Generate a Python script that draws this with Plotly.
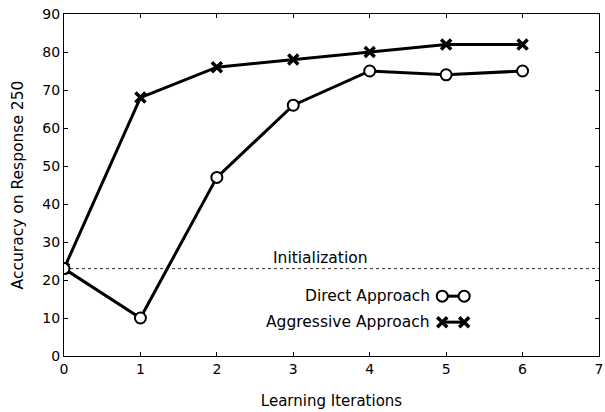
import plotly.graph_objects as go

iterations = [0, 1, 2, 3, 4, 5, 6]
direct_acc = [23, 10, 47, 66, 75, 74, 75]
aggressive_acc = [23, 68, 76, 78, 80, 82, 82]
init_level = 23
x_ticks = [0, 1, 2, 3, 4, 5, 6, 7]
y_ticks = [0, 10, 20, 30, 40, 50, 60, 70, 80, 90]
series_names = ["Direct Approach", "Aggressive Approach"]

FONT = "DejaVu Sans"

fig = go.Figure()

# initialization reference line
fig.add_trace(go.Scatter(
    x=[x_ticks[0], x_ticks[-1]], y=[init_level, init_level], mode="lines",
    line=dict(color="#333333", width=1, dash="dot"), showlegend=False, hoverinfo="skip"))

fig.add_trace(go.Scatter(
    x=iterations, y=aggressive_acc, mode="lines+markers", name=series_names[1],
    line=dict(color="black", width=3),
    marker=dict(symbol="x-thin", size=10, line=dict(color="black", width=3.5)),
    showlegend=False))

fig.add_trace(go.Scatter(
    x=iterations, y=direct_acc, mode="lines+markers", name=series_names[0],
    line=dict(color="black", width=3),
    marker=dict(symbol="circle", size=11, color="white", line=dict(color="black", width=2)),
    showlegend=False))

# legend keys (drawn on an overlay axis in fractional plot coordinates)
key_x = [0.707, 0.748]
key_y = [0.175, 0.099]
fig.add_trace(go.Scatter(
    x=key_x, y=[key_y[0]] * 2, xaxis="x2", yaxis="y2", mode="lines+markers",
    line=dict(color="black", width=3),
    marker=dict(symbol="circle", size=11, color="white", line=dict(color="black", width=2)),
    showlegend=False, hoverinfo="skip"))
fig.add_trace(go.Scatter(
    x=key_x, y=[key_y[1]] * 2, xaxis="x2", yaxis="y2", mode="lines+markers",
    line=dict(color="black", width=3),
    marker=dict(symbol="x-thin", size=10, line=dict(color="black", width=3.5)),
    showlegend=False, hoverinfo="skip"))

annotations = [
    dict(x=3.35, y=init_level, xref="x", yref="y", text="Initialization", showarrow=False,
         yanchor="bottom", yshift=0, font=dict(family=FONT, size=15.5, color="black")),
]
for name, ky in zip(series_names, key_y):
    annotations.append(dict(x=key_x[0] - 0.02, y=ky, xref="x2", yref="y2", text=name,
                            showarrow=False, xanchor="right", yanchor="middle",
                            font=dict(family=FONT, size=15.5, color="black")))

fig.update_layout(
    width=605, height=412,
    margin=dict(l=64, r=6, t=14, b=56, autoexpand=False),
    paper_bgcolor="white", plot_bgcolor="white",
    font=dict(family=FONT, size=14, color="black"),
    annotations=annotations,
    xaxis=dict(range=[0, 7], tickvals=x_ticks, ticks="inside", ticklen=4, tickcolor="black",
               showline=True, linecolor="black", linewidth=1, mirror="ticks",
               showgrid=False, zeroline=False, automargin=False,
               ticklabeloverflow="allow",
               title=dict(text="Learning Iterations", font=dict(size=15), standoff=19),
               tickfont=dict(size=14)),
    yaxis=dict(range=[0, 90], tickvals=y_ticks, ticks="inside", ticklen=4, tickcolor="black",
               showline=True, linecolor="black", linewidth=1, mirror="ticks",
               showgrid=False, zeroline=False, automargin=False,
               ticklabeloverflow="allow",
               title=dict(text="Accuracy on Response 250", font=dict(size=15.5), standoff=14),
               tickfont=dict(size=14)),
    xaxis2=dict(range=[0, 1], overlaying="x", visible=False, fixedrange=True),
    yaxis2=dict(range=[0, 1], overlaying="y", visible=False, fixedrange=True),
)

# remove the browser's default page margin so the figure sits at the window origin
fig.write_html("out.html", config={"displayModeBar": False},
               post_script="document.body.style.margin='0px';")
